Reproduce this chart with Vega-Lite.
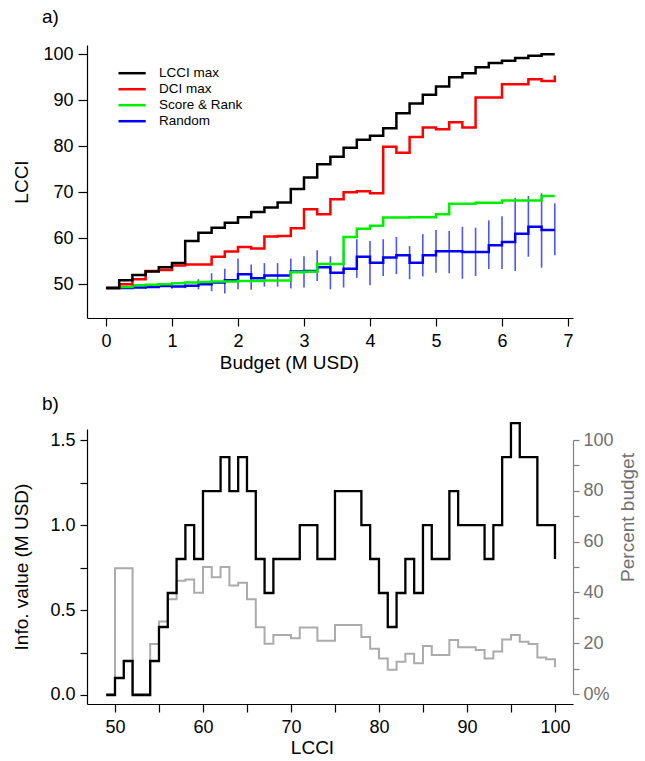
{
  "$schema": "https://vega.github.io/schema/vega-lite/v6.json",
  "background": "white",
  "padding": {"left": 12, "top": 8, "right": 5, "bottom": 5},
  "bounds": "flush",
  "spacing": 111,
  "config": {
    "view": {"stroke": null},
    "font": "Liberation Sans",
    "axis": {
      "grid": false,
      "domainColor": "#000000",
      "tickColor": "#000000",
      "labelColor": "#000000",
      "titleColor": "#000000",
      "labelFont": "Liberation Sans",
      "titleFont": "Liberation Sans",
      "labelFontSize": 18,
      "titleFontSize": 19,
      "titleFontWeight": "normal",
      "labelFlush": false,
      "labelOverlap": false,
      "domainWidth": 1.2,
      "tickWidth": 1.2
    },
    "title": {"font": "Liberation Sans", "fontSize": 19, "fontWeight": "normal", "color": "#000000"}
  },
  "datasets": {
    "top": [
      {"b": 0.0, "s": "Random", "v": 49.2}, {"b": 0.2, "s": "Random", "v": 49.2}, {"b": 0.4, "s": "Random", "v": 49.3}, {"b": 0.6, "s": "Random", "v": 49.4}, {"b": 0.8, "s": "Random", "v": 49.6}, {"b": 1.0, "s": "Random", "v": 49.5}, {"b": 1.2, "s": "Random", "v": 49.7}, {"b": 1.4, "s": "Random", "v": 50.0}, {"b": 1.6, "s": "Random", "v": 50.4}, {"b": 1.8, "s": "Random", "v": 50.9}, {"b": 2.0, "s": "Random", "v": 52.2}, {"b": 2.2, "s": "Random", "v": 51.3}, {"b": 2.4, "s": "Random", "v": 51.9}, {"b": 2.6, "s": "Random", "v": 51.9}, {"b": 2.8, "s": "Random", "v": 52.8}, {"b": 3.0, "s": "Random", "v": 52.9}, {"b": 3.2, "s": "Random", "v": 53.7}, {"b": 3.4, "s": "Random", "v": 52.5}, {"b": 3.6, "s": "Random", "v": 53.4}, {"b": 3.8, "s": "Random", "v": 56.0}, {"b": 4.0, "s": "Random", "v": 54.7}, {"b": 4.2, "s": "Random", "v": 55.8}, {"b": 4.4, "s": "Random", "v": 56.3}, {"b": 4.6, "s": "Random", "v": 54.7}, {"b": 4.8, "s": "Random", "v": 56.3}, {"b": 5.0, "s": "Random", "v": 57.2}, {"b": 5.2, "s": "Random", "v": 57.2}, {"b": 5.4, "s": "Random", "v": 57.0}, {"b": 5.6, "s": "Random", "v": 57.0}, {"b": 5.8, "s": "Random", "v": 58.5}, {"b": 6.0, "s": "Random", "v": 59.2}, {"b": 6.2, "s": "Random", "v": 61.0}, {"b": 6.4, "s": "Random", "v": 62.5}, {"b": 6.6, "s": "Random", "v": 61.8}, {"b": 6.8, "s": "Random", "v": 61.8},
      {"b": 0.0, "s": "Score & Rank", "v": 49.2}, {"b": 0.2, "s": "Score & Rank", "v": 49.4}, {"b": 0.4, "s": "Score & Rank", "v": 49.8}, {"b": 0.6, "s": "Score & Rank", "v": 49.9}, {"b": 0.8, "s": "Score & Rank", "v": 50.0}, {"b": 1.0, "s": "Score & Rank", "v": 50.2}, {"b": 1.2, "s": "Score & Rank", "v": 50.4}, {"b": 1.4, "s": "Score & Rank", "v": 50.5}, {"b": 1.6, "s": "Score & Rank", "v": 50.6}, {"b": 1.8, "s": "Score & Rank", "v": 50.6}, {"b": 2.0, "s": "Score & Rank", "v": 50.7}, {"b": 2.2, "s": "Score & Rank", "v": 50.7}, {"b": 2.4, "s": "Score & Rank", "v": 50.8}, {"b": 2.6, "s": "Score & Rank", "v": 50.8}, {"b": 2.8, "s": "Score & Rank", "v": 52.6}, {"b": 3.0, "s": "Score & Rank", "v": 52.7}, {"b": 3.2, "s": "Score & Rank", "v": 54.4}, {"b": 3.4, "s": "Score & Rank", "v": 54.4}, {"b": 3.6, "s": "Score & Rank", "v": 60.3}, {"b": 3.8, "s": "Score & Rank", "v": 62.1}, {"b": 4.0, "s": "Score & Rank", "v": 62.7}, {"b": 4.2, "s": "Score & Rank", "v": 64.5}, {"b": 4.4, "s": "Score & Rank", "v": 64.5}, {"b": 4.6, "s": "Score & Rank", "v": 64.6}, {"b": 4.8, "s": "Score & Rank", "v": 64.6}, {"b": 5.0, "s": "Score & Rank", "v": 65.2}, {"b": 5.2, "s": "Score & Rank", "v": 67.5}, {"b": 5.4, "s": "Score & Rank", "v": 67.5}, {"b": 5.6, "s": "Score & Rank", "v": 67.7}, {"b": 5.8, "s": "Score & Rank", "v": 67.7}, {"b": 6.0, "s": "Score & Rank", "v": 68.2}, {"b": 6.2, "s": "Score & Rank", "v": 68.2}, {"b": 6.4, "s": "Score & Rank", "v": 68.2}, {"b": 6.6, "s": "Score & Rank", "v": 69.2}, {"b": 6.8, "s": "Score & Rank", "v": 69.2},
      {"b": 0.0, "s": "DCI max", "v": 49.2}, {"b": 0.2, "s": "DCI max", "v": 50.0}, {"b": 0.4, "s": "DCI max", "v": 51.1}, {"b": 0.6, "s": "DCI max", "v": 52.9}, {"b": 0.8, "s": "DCI max", "v": 53.1}, {"b": 1.0, "s": "DCI max", "v": 54.1}, {"b": 1.2, "s": "DCI max", "v": 54.3}, {"b": 1.4, "s": "DCI max", "v": 54.3}, {"b": 1.6, "s": "DCI max", "v": 56.0}, {"b": 1.8, "s": "DCI max", "v": 57.1}, {"b": 2.0, "s": "DCI max", "v": 58.1}, {"b": 2.2, "s": "DCI max", "v": 57.8}, {"b": 2.4, "s": "DCI max", "v": 60.4}, {"b": 2.6, "s": "DCI max", "v": 60.5}, {"b": 2.8, "s": "DCI max", "v": 62.2}, {"b": 3.0, "s": "DCI max", "v": 66.3}, {"b": 3.2, "s": "DCI max", "v": 65.2}, {"b": 3.4, "s": "DCI max", "v": 68.5}, {"b": 3.6, "s": "DCI max", "v": 70.0}, {"b": 3.8, "s": "DCI max", "v": 70.2}, {"b": 4.0, "s": "DCI max", "v": 69.8}, {"b": 4.2, "s": "DCI max", "v": 79.9}, {"b": 4.4, "s": "DCI max", "v": 78.6}, {"b": 4.6, "s": "DCI max", "v": 82.0}, {"b": 4.8, "s": "DCI max", "v": 84.1}, {"b": 5.0, "s": "DCI max", "v": 83.7}, {"b": 5.2, "s": "DCI max", "v": 85.2}, {"b": 5.4, "s": "DCI max", "v": 84.1}, {"b": 5.6, "s": "DCI max", "v": 90.6}, {"b": 5.8, "s": "DCI max", "v": 90.6}, {"b": 6.0, "s": "DCI max", "v": 93.5}, {"b": 6.2, "s": "DCI max", "v": 93.5}, {"b": 6.4, "s": "DCI max", "v": 94.6}, {"b": 6.6, "s": "DCI max", "v": 94.2}, {"b": 6.8, "s": "DCI max", "v": 95.4},
      {"b": 0.0, "s": "LCCI max", "v": 49.2}, {"b": 0.2, "s": "LCCI max", "v": 50.9}, {"b": 0.4, "s": "LCCI max", "v": 52.0}, {"b": 0.6, "s": "LCCI max", "v": 52.8}, {"b": 0.8, "s": "LCCI max", "v": 53.7}, {"b": 1.0, "s": "LCCI max", "v": 54.6}, {"b": 1.2, "s": "LCCI max", "v": 59.4}, {"b": 1.4, "s": "LCCI max", "v": 61.2}, {"b": 1.6, "s": "LCCI max", "v": 62.3}, {"b": 1.8, "s": "LCCI max", "v": 63.4}, {"b": 2.0, "s": "LCCI max", "v": 64.6}, {"b": 2.2, "s": "LCCI max", "v": 65.7}, {"b": 2.4, "s": "LCCI max", "v": 66.7}, {"b": 2.6, "s": "LCCI max", "v": 67.8}, {"b": 2.8, "s": "LCCI max", "v": 70.7}, {"b": 3.0, "s": "LCCI max", "v": 73.2}, {"b": 3.2, "s": "LCCI max", "v": 76.1}, {"b": 3.4, "s": "LCCI max", "v": 77.7}, {"b": 3.6, "s": "LCCI max", "v": 79.7}, {"b": 3.8, "s": "LCCI max", "v": 81.4}, {"b": 4.0, "s": "LCCI max", "v": 82.3}, {"b": 4.2, "s": "LCCI max", "v": 83.9}, {"b": 4.4, "s": "LCCI max", "v": 87.2}, {"b": 4.6, "s": "LCCI max", "v": 89.3}, {"b": 4.8, "s": "LCCI max", "v": 91.2}, {"b": 5.0, "s": "LCCI max", "v": 93.0}, {"b": 5.2, "s": "LCCI max", "v": 95.0}, {"b": 5.4, "s": "LCCI max", "v": 95.9}, {"b": 5.6, "s": "LCCI max", "v": 97.2}, {"b": 5.8, "s": "LCCI max", "v": 98.1}, {"b": 6.0, "s": "LCCI max", "v": 98.6}, {"b": 6.2, "s": "LCCI max", "v": 99.2}, {"b": 6.4, "s": "LCCI max", "v": 99.7}, {"b": 6.6, "s": "LCCI max", "v": 100.0}, {"b": 6.8, "s": "LCCI max", "v": 100.0}
    ],
    "rand": [
      {"b": 0.2, "lo": 49.1, "hi": 49.3}, {"b": 0.4, "lo": 49.0, "hi": 49.6}, {"b": 0.6, "lo": 49.05, "hi": 49.75}, {"b": 0.8, "lo": 49.2, "hi": 50.0}, {"b": 1.0, "lo": 49.05, "hi": 49.95}, {"b": 1.2, "lo": 49.15, "hi": 50.25}, {"b": 1.4, "lo": 48.9, "hi": 51.1}, {"b": 1.6, "lo": 48.5, "hi": 52.4}, {"b": 1.8, "lo": 48.0, "hi": 53.4}, {"b": 2.0, "lo": 48.9, "hi": 55.6}, {"b": 2.2, "lo": 48.8, "hi": 54.3}, {"b": 2.4, "lo": 49.5, "hi": 54.6}, {"b": 2.6, "lo": 49.5, "hi": 54.6}, {"b": 2.8, "lo": 49.1, "hi": 55.6}, {"b": 3.0, "lo": 49.3, "hi": 56.1}, {"b": 3.2, "lo": 50.7, "hi": 57.4}, {"b": 3.4, "lo": 48.9, "hi": 56.1}, {"b": 3.6, "lo": 49.3, "hi": 57.5}, {"b": 3.8, "lo": 51.4, "hi": 59.8}, {"b": 4.0, "lo": 49.8, "hi": 59.4}, {"b": 4.2, "lo": 51.8, "hi": 59.8}, {"b": 4.4, "lo": 52.2, "hi": 60.3}, {"b": 4.6, "lo": 51.1, "hi": 58.3}, {"b": 4.8, "lo": 51.7, "hi": 60.9}, {"b": 5.0, "lo": 52.5, "hi": 61.8}, {"b": 5.2, "lo": 52.4, "hi": 61.6}, {"b": 5.4, "lo": 51.2, "hi": 62.5}, {"b": 5.6, "lo": 51.8, "hi": 62.3}, {"b": 5.8, "lo": 53.3, "hi": 63.9}, {"b": 6.0, "lo": 53.3, "hi": 64.8}, {"b": 6.2, "lo": 52.9, "hi": 68.8}, {"b": 6.4, "lo": 56.0, "hi": 69.2}, {"b": 6.6, "lo": 53.6, "hi": 69.8}, {"b": 6.8, "lo": 56.3, "hi": 67.6}
    ],
    "bottom": [
      {"l": 49, "info": 0.0, "pct": 0.0}, {"l": 50, "info": 0.1, "pct": 49.5}, {"l": 51, "info": 0.2, "pct": 49.5}, {"l": 52, "info": 0.0, "pct": 0.0}, {"l": 53, "info": 0.0, "pct": 0.0}, {"l": 54, "info": 0.2, "pct": 19.7}, {"l": 55, "info": 0.4, "pct": 28.5}, {"l": 56, "info": 0.6, "pct": 37.3}, {"l": 57, "info": 0.8, "pct": 44.6}, {"l": 58, "info": 1.0, "pct": 45.1}, {"l": 59, "info": 0.8, "pct": 39.9}, {"l": 60, "info": 1.2, "pct": 50.0}, {"l": 61, "info": 1.2, "pct": 46.0}, {"l": 62, "info": 1.4, "pct": 50.0}, {"l": 63, "info": 1.2, "pct": 42.7}, {"l": 64, "info": 1.4, "pct": 43.8}, {"l": 65, "info": 1.2, "pct": 37.3}, {"l": 66, "info": 0.8, "pct": 26.3}, {"l": 67, "info": 0.6, "pct": 19.8}, {"l": 68, "info": 0.8, "pct": 23.2}, {"l": 69, "info": 0.8, "pct": 23.2}, {"l": 70, "info": 0.8, "pct": 21.9}, {"l": 71, "info": 1.0, "pct": 26.2}, {"l": 72, "info": 1.0, "pct": 26.2}, {"l": 73, "info": 0.8, "pct": 21.0}, {"l": 74, "info": 0.8, "pct": 21.0}, {"l": 75, "info": 1.2, "pct": 27.2}, {"l": 76, "info": 1.2, "pct": 27.2}, {"l": 77, "info": 1.2, "pct": 27.2}, {"l": 78, "info": 1.0, "pct": 22.4}, {"l": 79, "info": 0.8, "pct": 17.8}, {"l": 80, "info": 0.6, "pct": 14.0}, {"l": 81, "info": 0.4, "pct": 9.5}, {"l": 82, "info": 0.6, "pct": 12.7}, {"l": 83, "info": 0.8, "pct": 15.8}, {"l": 84, "info": 0.6, "pct": 12.1}, {"l": 85, "info": 1.0, "pct": 18.9}, {"l": 86, "info": 0.8, "pct": 15.4}, {"l": 87, "info": 0.8, "pct": 15.4}, {"l": 88, "info": 1.2, "pct": 21.3}, {"l": 89, "info": 1.0, "pct": 18.4}, {"l": 90, "info": 1.0, "pct": 18.4}, {"l": 91, "info": 1.0, "pct": 17.3}, {"l": 92, "info": 0.8, "pct": 14.0}, {"l": 93, "info": 1.0, "pct": 16.7}, {"l": 94, "info": 1.4, "pct": 21.5}, {"l": 95, "info": 1.6, "pct": 23.2}, {"l": 96, "info": 1.4, "pct": 20.6}, {"l": 97, "info": 1.4, "pct": 19.7}, {"l": 98, "info": 1.0, "pct": 14.4}, {"l": 99, "info": 1.0, "pct": 13.7}, {"l": 100, "info": 0.8, "pct": 10.5}
    ]
  },
  "vconcat": [
    {
      "width": 486,
      "height": 273,
      "title": {"text": "a)", "anchor": "start", "frame": "group", "dx": -45, "offset": 3, "baseline": "alphabetic"},
      "layer": [
        {
          "mark": {"type": "rule", "strokeDash": [1, 3], "color": "#777777", "strokeWidth": 1},
          "encoding": {
            "y": {"datum": 100, "type": "quantitative", "scale": {"domain": [42.67, 102.02], "nice": false, "zero": false}}
          }
        },
        {
          "data": {"name": "rand"},
          "mark": {"type": "rule", "color": "#1f2bff", "strokeWidth": 1.6, "opacity": 0.8},
          "encoding": {
            "x": {"field": "b", "type": "quantitative", "scale": {"domain": [-0.288, 7.076], "nice": false, "zero": false}},
            "y": {"field": "lo", "type": "quantitative", "scale": {"domain": [42.67, 102.02], "nice": false, "zero": false}},
            "y2": {"field": "hi"}
          }
        },
        {
          "data": {"name": "top"},
          "mark": {"type": "line", "interpolate": "step-after", "strokeWidth": 2.5},
          "encoding": {
            "x": {
              "field": "b", "type": "quantitative",
              "scale": {"domain": [-0.288, 7.076], "nice": false, "zero": false},
              "axis": {
                "title": "Budget (M USD)",
                "values": [0, 0.5, 1, 1.5, 2, 2.5, 3, 3.5, 4, 4.5, 5, 5.5, 6, 6.5, 7],
                "labelExpr": "datum.value % 1 === 0 ? format(datum.value, 'd') : ''",
                "tickSize": 8,
                "labelPadding": 6,
                "titleX": 202,
                "titleY": 44,
                "titleBaseline": "middle"
              }
            },
            "y": {
              "field": "v", "type": "quantitative",
              "scale": {"domain": [42.67, 102.02], "nice": false, "zero": false},
              "axis": {
                "title": "LCCI",
                "values": [50, 60, 70, 80, 90, 100],
                "tickSize": 9,
                "labelPadding": 5,
                "titleX": -66,
                "titleBaseline": "middle"
              }
            },
            "color": {
              "field": "s", "type": "nominal",
              "scale": {"domain": ["LCCI max", "DCI max", "Score & Rank", "Random"], "range": ["#000000", "#ff0000", "#00ee00", "#0000ff"]},
              "legend": {
                "title": null,
                "orient": "none",
                "legendX": 35.6,
                "legendY": 18.7,
                "symbolType": "M-1.7,0L1.7,0",
                "symbolSize": 256,
                "symbolStrokeWidth": 2.5,
                "labelFontSize": 13.5,
                "labelFont": "Liberation Sans",
                "labelColor": "#000000",
                "labelOffset": 17.4,
                "rowPadding": 0
              }
            }
          }
        }
      ]
    },
    {
      "width": 486,
      "height": 275,
      "title": {"text": "b)", "anchor": "start", "frame": "group", "dx": -45, "offset": -11, "baseline": "alphabetic"},
      "layer": [
        {
          "data": {"name": "bottom"},
          "mark": {"type": "line", "interpolate": "step-after", "color": "#ababab", "strokeWidth": 2},
          "encoding": {
            "x": {
              "field": "l", "type": "quantitative",
              "scale": {"domain": [46.82, 102.05], "nice": false, "zero": false},
              "axis": {
                "title": "LCCI",
                "values": [50, 55, 60, 65, 70, 75, 80, 85, 90, 95, 100],
                "labelExpr": "datum.value % 10 === 0 ? format(datum.value, 'd') : ''",
                "tickSize": 8,
                "labelPadding": 6,
                "titleX": 225,
                "titleY": 43,
                "titleBaseline": "middle"
              }
            },
            "y": {
              "field": "pct", "type": "quantitative",
              "scale": {"domain": [0, 100], "range": [265, 11], "nice": false, "zero": false},
              "axis": {
                "orient": "right",
                "title": "Percent budget",
                "values": [0, 10, 20, 30, 40, 50, 60, 70, 80, 90, 100],
                "labelExpr": "datum.value === 0 ? '0%' : (datum.value % 20 === 0 ? format(datum.value, 'd') : '')",
                "domainColor": "#808080",
                "tickColor": "#808080",
                "labelColor": "#707070",
                "titleColor": "#707070",
                "tickSize": 6,
                "labelPadding": 4,
                "titleAngle": 270,
                "titleX": 54,
                "titleY": 88,
                "titleBaseline": "middle"
              }
            }
          }
        },
        {
          "data": {"name": "bottom"},
          "mark": {"type": "line", "interpolate": "step-after", "color": "#000000", "strokeWidth": 2.3},
          "encoding": {
            "x": {"field": "l", "type": "quantitative", "scale": {"domain": [46.82, 102.05], "nice": false, "zero": false}},
            "y": {
              "field": "info", "type": "quantitative",
              "scale": {"domain": [-0.053, 1.565], "nice": false, "zero": false},
              "axis": {
                "orient": "left",
                "title": "Info. value (M USD)",
                "values": [0, 0.25, 0.5, 0.75, 1, 1.25, 1.5],
                "labelExpr": "(datum.value * 4) % 2 === 0 ? format(datum.value, '.1f') : ''",
                "tickSize": 7,
                "labelPadding": 5,
                "titleX": -66,
                "titleBaseline": "middle"
              }
            }
          }
        }
      ],
      "resolve": {"scale": {"y": "independent"}}
    }
  ]
}
